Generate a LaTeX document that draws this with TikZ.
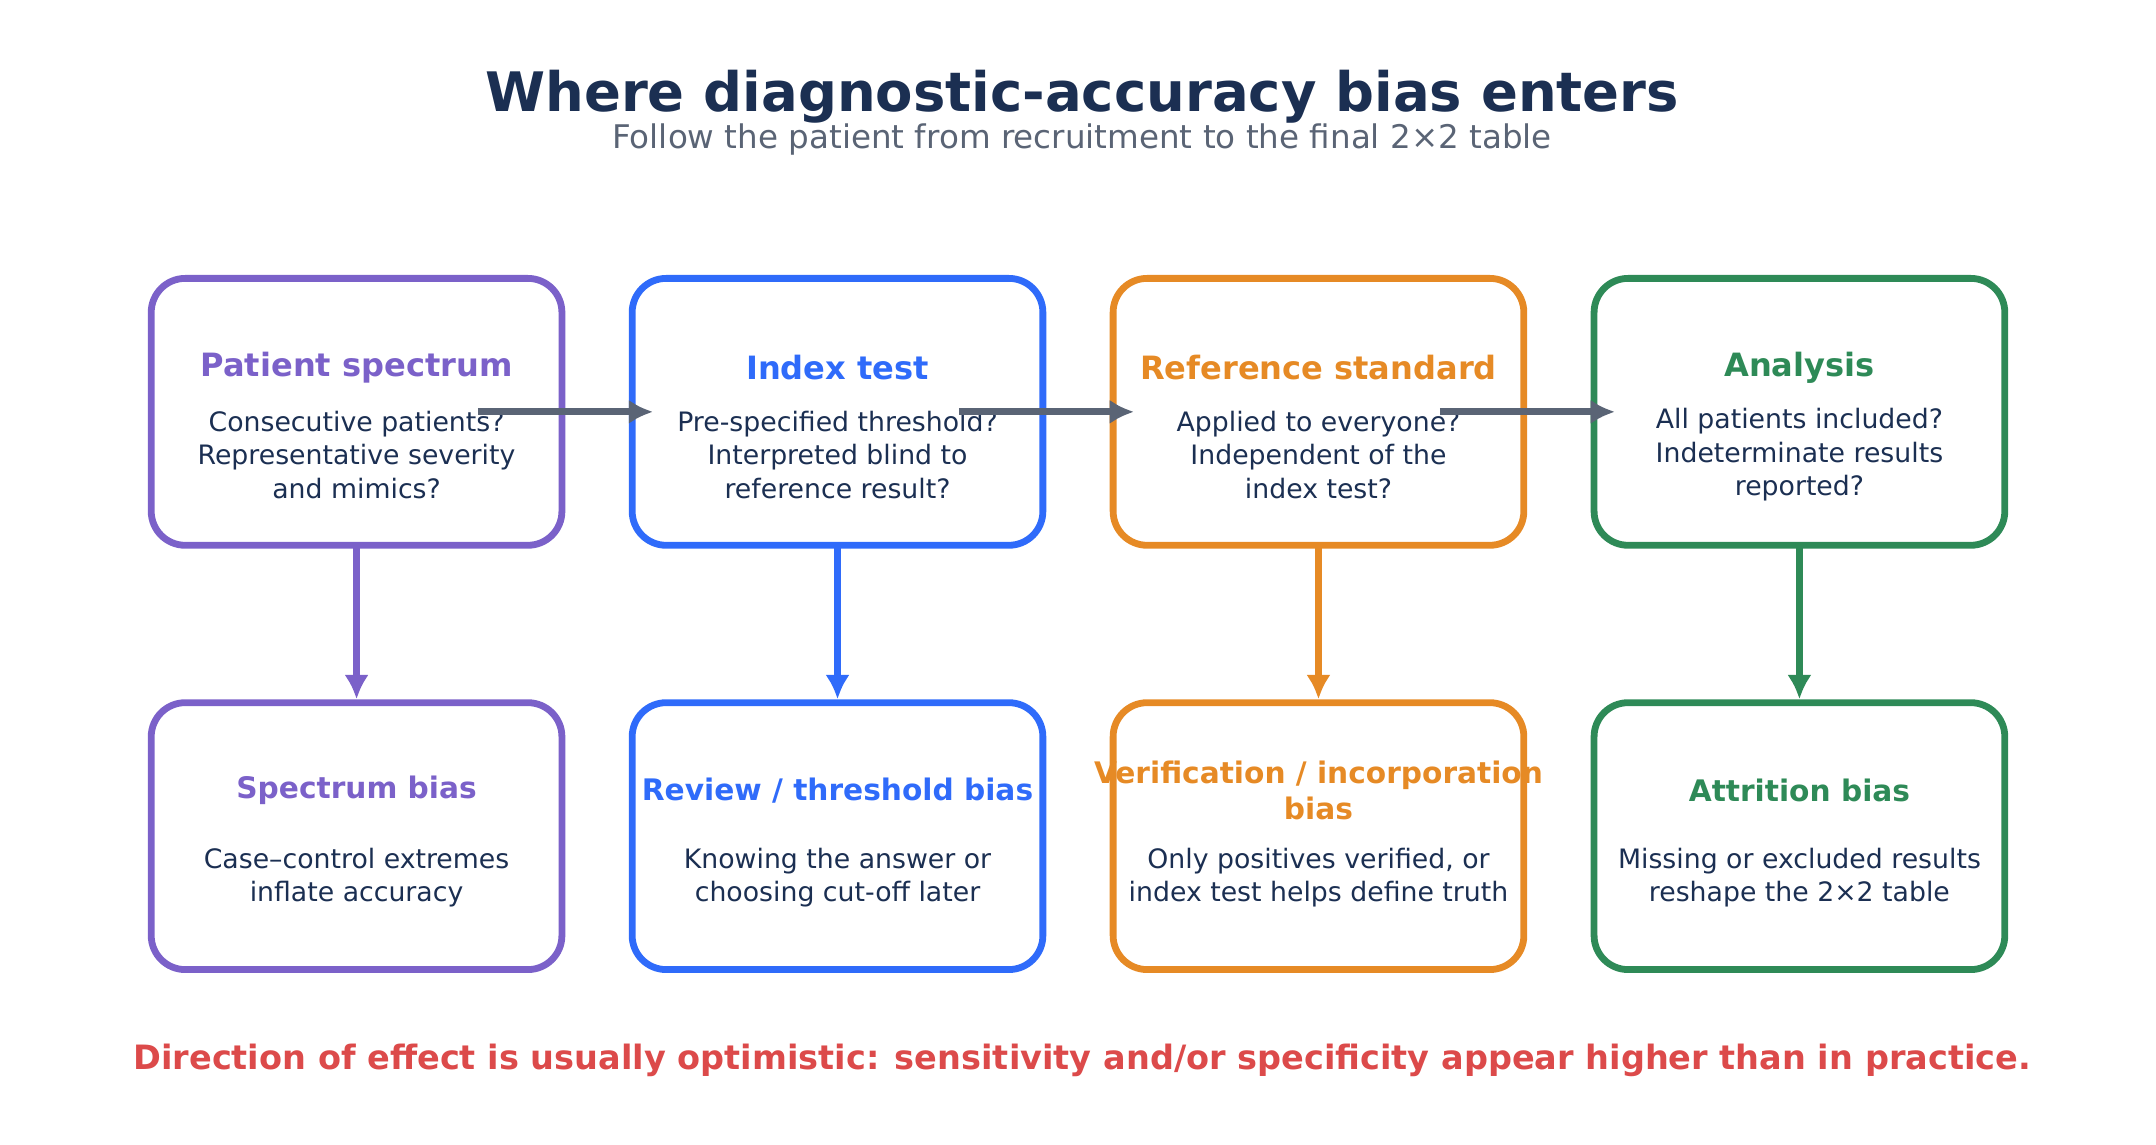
\documentclass[tikz,border=0pt]{standalone}
\usepackage{fontspec}
\setmainfont{DejaVu Sans}
\usetikzlibrary{arrows.meta,positioning}
\definecolor{cPurple}{HTML}{7B61C9}
\definecolor{cBlue}{HTML}{2F6BFA}
\definecolor{cOrange}{HTML}{E68A25}
\definecolor{cGreen}{HTML}{2E8A57}
\definecolor{cNavy}{HTML}{1B2F52}
\definecolor{cGray}{HTML}{5A6475}
\definecolor{cRed}{HTML}{DC4A4A}
\tikzset{
  box/.style={draw=#1, line width=1.4pt, rounded corners=7pt, minimum width=2.97cm, minimum height=1.93cm},
  head/.style={font=\bfseries\fontsize{6.6}{8}\selectfont, text=#1, align=center},
  low/.style={font=\bfseries\fontsize{6.1}{7.4}\selectfont, text=#1, align=center},
  body/.style={font=\fontsize{5.5}{6.9}\selectfont, text=cNavy, align=center},
  flow/.style={-{Latex[length=5pt,width=5pt]}, line width=1.4pt, draw=#1}
}
\begin{document}
\begin{tikzpicture}[x=0.01cm,y=-0.01cm]
\useasboundingbox (0,0) rectangle (1560,828);
\node[font=\bfseries\fontsize{11.2}{13}\selectfont, text=cNavy] (title) at (783,70) {Where diagnostic-accuracy bias enters};
\node[font=\fontsize{6.7}{8}\selectfont, text=cGray] (sub) at (783,101) {Follow the patient from recruitment to the final 2×2 table};

% top row
\node[box=cPurple] (t1) at (258,298) {};
\node[box=cBlue] (t2) at (606,298) {};
\node[box=cOrange] (t3) at (954,298) {};
\node[box=cGreen] (t4) at (1302,298) {};
% bottom row
\node[box=cPurple] (b1) at (258,605) {};
\node[box=cBlue] (b2) at (606,605) {};
\node[box=cOrange] (b3) at (954,605) {};
\node[box=cGreen] (b4) at (1302,605) {};

\node[head=cPurple] at (258,266) {Patient spectrum};
\node[head=cBlue] at (606,266) {Index test};
\node[head=cOrange] at (954,266) {Reference standard};
\node[head=cGreen] at (1302,266) {Analysis};

\node[body] at (258,329) {Consecutive patients?\\Representative severity\\and mimics?};
\node[body] at (606,329) {Pre-specified threshold?\\Interpreted blind to\\reference result?};
\node[body] at (954,329) {Applied to everyone?\\Independent of the\\index test?};
\node[body] at (1302,329) {All patients included?\\Indeterminate results\\reported?};

\node[low=cPurple] at (258,572) {Spectrum bias};
\node[low=cBlue] at (606,572) {Review / threshold bias};
\node[low=cOrange] at (954,572) {Verification / incorporation\\bias};
\node[low=cGreen] at (1302,572) {Attrition bias};

\node[body] at (258,635) {Case–control extremes\\inflate accuracy};
\node[body] at (606,635) {Knowing the answer or\\choosing cut-off later};
\node[body] at (954,635) {Only positives verified, or\\index test helps define truth};
\node[body] at (1302,635) {Missing or excluded results\\reshape the 2×2 table};

% flow between stages
\foreach \a/\b in {t1/t2,t2/t3,t3/t4}
  \draw[flow=cGray] ([xshift=-18pt]\a.east) -- ([xshift=5pt]\b.west);
\foreach \a/\b/\c in {t1/b1/cPurple,t2/b2/cBlue,t3/b3/cOrange,t4/b4/cGreen}
  \draw[flow=\c] (\a) ++(0,97) -- (\b.north);

\node[font=\bfseries\fontsize{6.9}{8}\selectfont, text=cRed] (note) at (783,767) {Direction of effect is usually optimistic: sensitivity and/or specificity appear higher than in practice.};
\end{tikzpicture}
\end{document}
